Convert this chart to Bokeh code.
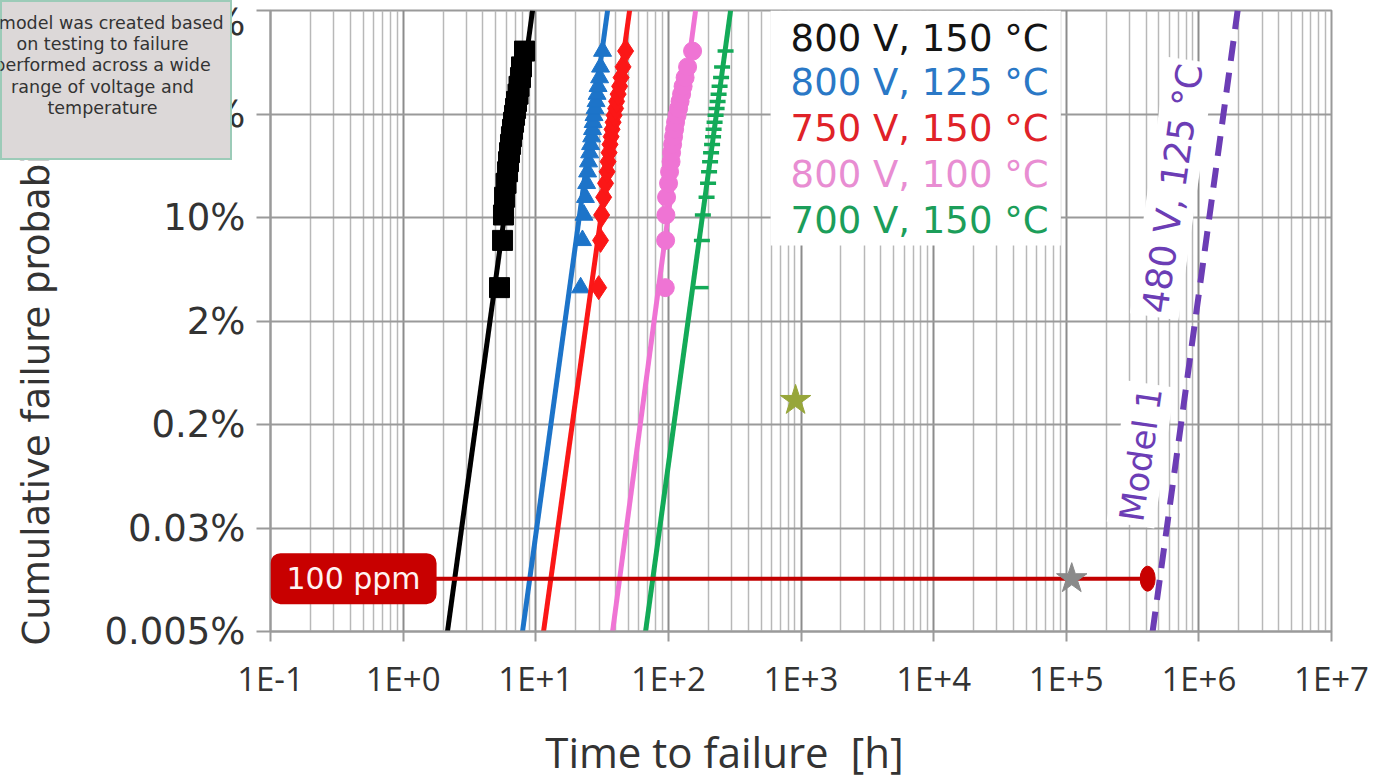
import math
from bokeh.plotting import figure
from bokeh.layouts import column
from bokeh.models import FixedTicker, CustomJSTickFormatter, Label, BoxAnnotation
from bokeh.embed import file_html
from bokeh.resources import INLINE

# ---------------- data ----------------
series_names = ["800 V, 150 °C", "800 V, 125 °C", "750 V, 150 °C", "800 V, 100 °C", "700 V, 150 °C"]
series_colors = ["#000000", "#1d74c9", "#fb1717", "#ef74d4", "#13aa58"]
legend_colors = ["#141414", "#2a78c6", "#e02228", "#e88dd2", "#1c9e5a"]
series_markers = ["square", "triangle", "diamond", "circle", "dash"]
marker_sizes = [20, 18, 24, 18, 16]

# cumulative failure probability of each plotted failure [%]
fail_prob_pct = [3.43, 8.33, 13.24, 18.14, 23.04, 27.94, 32.84, 37.75, 42.65, 47.55,
                 52.45, 57.35, 62.25, 67.16, 72.06, 76.96, 81.86, 86.76, 91.67, 96.57]

# times to failure [h]
t_800V_150C = [5.33, 5.62, 5.71, 5.82, 5.97, 6.13, 6.23, 6.34, 6.45, 6.56,
               6.68, 6.80, 6.92, 7.04, 7.16, 7.35, 7.48, 7.67, 7.81, 8.23]
t_800V_125C = [21.8, 22.5, 23.1, 23.7, 24.2, 24.6, 25.0, 25.5, 25.9, 26.4,
               26.8, 27.1, 27.5, 28.0, 28.5, 29.0, 29.5, 30.3, 30.8, 31.9]
t_750V_150C = [29.8, 30.8, 31.4, 32.5, 33.6, 34.5, 35.1, 35.7, 36.3, 37.0,
               37.6, 38.3, 39.0, 40.0, 40.7, 41.8, 42.9, 44.0, 45.5, 47.6]
t_800V_100C = [94.8, 95.3, 95.8, 96.9, 100.3, 102.1, 104.8, 105.7, 107.6, 109.4,
               111.4, 113.3, 116.3, 119.4, 122.5, 125.8, 129.1, 133.7, 139.6, 152.2]
t_700V_150C = [175.0, 179.0, 182.0, 194.1, 199.2, 202.7, 206.3, 209.9, 213.6, 217.3,
               219.3, 223.1, 227.0, 231.0, 235.0, 239.1, 243.3, 249.7, 254.1, 270.0]
series_times = [t_800V_150C, t_800V_125C, t_750V_150C, t_800V_100C, t_700V_150C]

# Weibull fit lines: time at the lowest and highest plotted probability
fit_end_pct = [0.00454, 99.938]
fit_t_low = [2.16, 7.95, 11.45, 37.96, 67.3]
fit_t_high = [9.46, 34.8, 51.0, 160.4, 294.5]

# Model 1 (480 V, 125 °C) extrapolated line
model_t = [4.48e5, 1.96e6]

# 100 ppm level and markers on it
ppm_level_pct = 0.0126
ppm_line_t = [0.1, 4.11e5]
model_point_t = [4.11e5]
gray_star_t = [1.10e5]
olive_star_t = [910.0]
olive_star_pct = [0.394]

# axis ticks
y_tick_pos = [-10, -8, -6, -4, -2, 0, 2]
y_tick_labels = ["0.005%", "0.03%", "0.2%", "2%", "10%", "63%", "99.9%"]
x_decades = list(range(-1, 8))

x_title = "Time to failure\u00a0 [h]"
y_title = "Cumulative failure probability"
note_text = ("A model was created based\non testing to failure\nperformed across a wide\n"
             "range of voltage and\ntemperature")


def wb(pct):
    """Weibull probability-paper coordinate ln(-ln(1-F))."""
    return math.log(-math.log(1.0 - pct / 100.0))


def overlay(width, height, left, top, z, bg=None, outline=None):
    f = figure(width=width, height=height, x_range=(0, width), y_range=(height, 0),
               output_backend="svg", toolbar_location=None, frame_align=False,
               min_border_left=0, min_border_right=0, min_border_top=0, min_border_bottom=0,
               x_axis_location=None, y_axis_location=None,
               styles={"position": "absolute", "left": f"{left}px", "top": f"{top}px", "z-index": str(z)})
    f.grid.visible = False
    f.background_fill_color = bg
    f.border_fill_color = bg
    f.outline_line_color = outline
    return f


# ---------------- main figure ----------------
p = figure(width=1373, height=779, x_axis_type="log", x_range=(0.1, 1e7), y_range=(-10, 2),
           output_backend="svg", toolbar_location=None, frame_align=False,
           min_border_left=270, min_border_right=42, min_border_top=10, min_border_bottom=148)
p.background_fill_color = "white"
p.border_fill_color = "white"
p.outline_line_color = "#9a9a9a"
p.outline_line_width = 2

GRID = "#9a9a9a"
p.xaxis.ticker = FixedTicker(ticks=[10.0 ** k for k in x_decades],
                             minor_ticks=[m * 10.0 ** k for k in x_decades[:-1] for m in range(2, 10)])
p.xaxis.formatter = CustomJSTickFormatter(code="""
const e = Math.round(Math.log10(tick));
return "1E" + (e < 0 ? "-" : "+") + Math.abs(e);
""")
p.yaxis.ticker = FixedTicker(ticks=y_tick_pos)
p.yaxis.major_label_overrides = {v: s for v, s in zip(y_tick_pos, y_tick_labels)}

p.xgrid.grid_line_color = "#8c8c8c"
p.xgrid.grid_line_width = 2
p.xgrid.minor_grid_line_color = "#b8b8b8"
p.xgrid.minor_grid_line_width = 1.5
p.ygrid.grid_line_color = GRID
p.ygrid.grid_line_width = 2

for ax in (p.xaxis[0], p.yaxis[0]):
    ax.axis_line_color = GRID
    ax.axis_line_width = 2
    ax.major_tick_line_color = GRID
    ax.major_tick_line_width = 2
    ax.major_tick_in = 0
    ax.minor_tick_line_color = None
    ax.major_label_text_color = "#333333"

p.xaxis.major_tick_out = 10
p.xaxis.major_label_standoff = 14
p.xaxis.major_label_text_font = "Open Sans"
p.xaxis.major_label_text_font_size = "33px"
p.yaxis.major_tick_out = 14
p.yaxis.major_label_standoff = 11
p.yaxis.major_label_text_font = "DejaVu Sans"
p.yaxis.major_label_text_font_size = "37px"

# ---------------- fit lines and data ----------------
for i in range(5):
    c = series_colors[i]
    p.line([fit_t_low[i], fit_t_high[i]], [wb(v) for v in fit_end_pct], line_color=c, line_width=5)
    ys = [wb(v) for v in fail_prob_pct]
    if series_markers[i] == "dash":
        p.scatter(series_times[i], ys, marker="dash", size=marker_sizes[i], line_color=c, line_width=3.5)
    else:
        p.scatter(series_times[i], ys, marker=series_markers[i], size=marker_sizes[i],
                  fill_color=c, line_color=c)

p.line(model_t, [wb(v) for v in fit_end_pct], line_color="#6c3db5", line_width=6, line_dash="20 12")

ppm_y = wb(ppm_level_pct)
p.line(ppm_line_t, [ppm_y, ppm_y], line_color="#c20000", line_width=4)
p.ellipse(model_point_t, [ppm_y], width=15, height=25, width_units="screen", height_units="screen",
          fill_color="#c80000", line_color="#c80000")
p.scatter(gray_star_t, [ppm_y], marker="star", size=32, fill_color="#8a8a8a", line_color="#8a8a8a")
p.scatter(olive_star_t, [wb(v) for v in olive_star_pct], marker="star", size=32,
          fill_color="#97a63a", line_color="#97a63a")

# ---------------- legend block ----------------
p.add_layout(BoxAnnotation(left=590, right=9.1e4, bottom=-2.54, top=2.0, fill_color="white",
                           fill_alpha=1.0, line_color=None))
legend_y = [1.46, 0.61, -0.28, -1.17, -2.06]
for name, col, yy in zip(series_names, legend_colors, legend_y):
    p.add_layout(Label(x=835, y=yy, text=name, text_color=col, text_font="DejaVu Sans",
                       text_font_size="37px", text_align="left", text_baseline="middle"))

# ---------------- Model 1 annotation ----------------
p.add_layout(Label(x=3.64e5, y=-6.58, text="Model 1", padding=4,
                   angle=81.8, angle_units="deg", text_color="#6c3db5", text_font="DejaVu Sans",
                   text_font_size="34px", text_align="center", text_baseline="middle",
                   background_fill_color="white"))
p.add_layout(Label(x=6.34e5, y=-1.44, text="480 V, 125 °C", padding=4,
                   angle=81.8, angle_units="deg", text_color="#6c3db5", text_font="DejaVu Sans",
                   text_font_size="36px", text_align="center", text_baseline="middle",
                   background_fill_color="white"))

# ---------------- 100 ppm tag ----------------
p.add_layout(Label(x=0.4227, y=ppm_y, text="100 ppm", padding=(16, 8),
                   text_color="#fff2f2", text_font="DejaVu Sans", text_font_size="30px",
                   text_align="center", text_baseline="middle", background_fill_color="#c80000",
                   border_radius=10))

# ---------------- axis titles (overlays, placed as in the reference) ----------------
ytitle = overlay(72, 640, 0, 20, 5)
ytitle.add_layout(Label(x=36, y=625, text=y_title, angle=90, angle_units="deg",
                        text_color="#333333", text_font="DejaVu Sans", text_font_size="37px",
                        text_align="left", text_baseline="alphabetic"))

xtitle = overlay(480, 68, 480, 712, 5)
xtitle.add_layout(Label(x=244, y=39, text=x_title, text_color="#333333", text_font="Open Sans",
                        text_font_size="42px", text_align="center", text_baseline="alphabetic"))

# ---------------- note box (overlay in the top-left corner) ----------------
note = overlay(232, 160, 0, 0, 10, bg="#dcd8d8", outline="#9ccbb8")
note.outline_line_width = 3
note.add_layout(Label(x=102, y=12, text=note_text, text_color="#333333", text_font="DejaVu Sans",
                      text_font_size="17.5px", text_align="center", text_baseline="top",
                      text_line_height=1.07))

root = column(p, ytitle, xtitle, note, styles={"position": "relative"})
open("out.html", "w").write(file_html(root, INLINE))
